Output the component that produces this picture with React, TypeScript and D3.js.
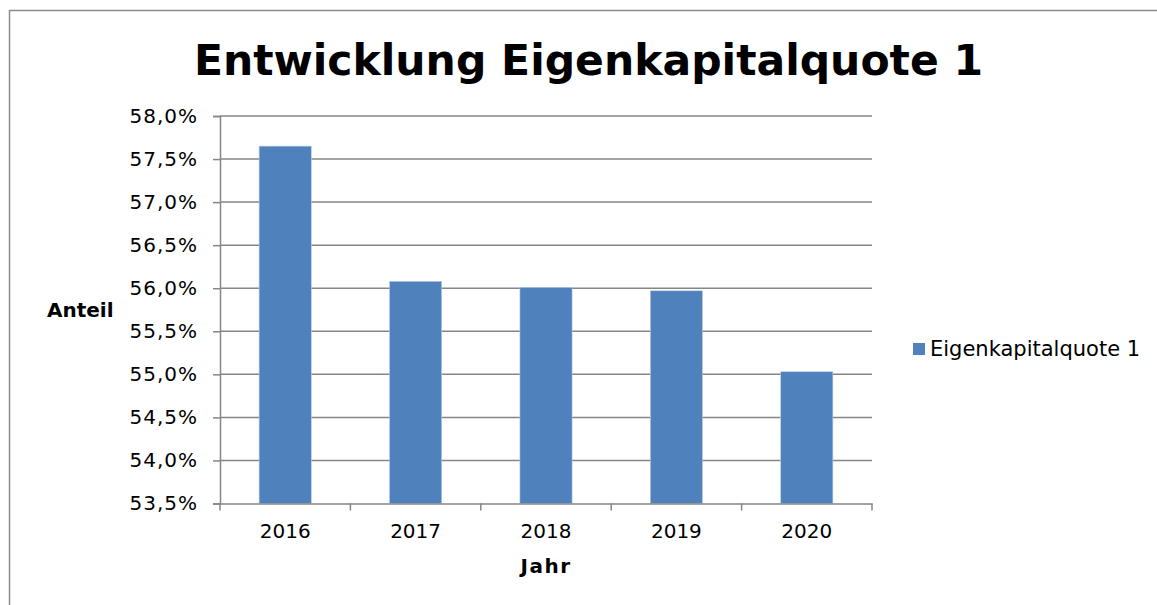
import React, { useEffect, useRef } from "react";
import * as d3 from "d3";

// data
const years = ["2016", "2017", "2018", "2019", "2020"];
const quote = [57.65, 56.08, 56.01, 55.97, 55.03];
const yTicks = [53.5, 54.0, 54.5, 55.0, 55.5, 56.0, 56.5, 57.0, 57.5, 58.0];
const seriesName = "Eigenkapitalquote 1";
const title = "Entwicklung Eigenkapitalquote 1";

const W = 1157;
const H = 605;
const FONT = "'DejaVu Sans', Verdana, sans-serif";

const App = () => {
    const ref = useRef<SVGSVGElement | null>(null);

    useEffect(() => {
        const svg = d3.select(ref.current);
        svg.selectAll("*").remove();

        const plot = { left: 220, right: 872, top: 116, bottom: 503.5 };

        // outer frame (runs past the window on the right and bottom)
        svg.append("rect")
            .attr("x", 9.5)
            .attr("y", 10.5)
            .attr("width", W + 20)
            .attr("height", H + 20)
            .attr("fill", "#fff")
            .attr("stroke", "#8c8c8c")
            .attr("stroke-width", 1.5);

        svg.append("text")
            .attr("x", 588.5)
            .attr("y", 75)
            .attr("text-anchor", "middle")
            .style("font-family", FONT)
            .style("font-weight", "bold")
            .style("font-size", "42.5px")
            .text(title);

        const x = d3.scaleBand<string>()
            .domain(years)
            .range([plot.left, plot.right]);

        const y = d3.scaleLinear()
            .domain([53.5, 58.0])
            .range([plot.bottom, plot.top]);

        const fmt = (v: number) => v.toFixed(1).replace(".", ",") + "%";

        // y axis with tick marks
        const yAxis = svg.append("g")
            .attr("transform", `translate(${plot.left},0)`)
            .call(d3.axisLeft(y)
                .tickValues(yTicks)
                .tickFormat(d => fmt(d as number))
                .tickSize(7)
                .tickPadding(15)
            );
        yAxis.select(".domain").attr("stroke", "#868686").attr("stroke-width", 1.5);
        yAxis.selectAll(".tick line").attr("stroke", "#868686").attr("stroke-width", 1.5);
        yAxis.selectAll(".tick text")
            .style("font-family", FONT)
            .style("font-size", "20px")
            .style("letter-spacing", "1px")
            .attr("fill", "#000");

        // gridlines
        svg.append("g")
            .selectAll("line")
            .data(yTicks.filter(t => t > 53.5))
            .enter()
            .append("line")
            .attr("x1", plot.left)
            .attr("x2", plot.right)
            .attr("y1", d => y(d))
            .attr("y2", d => y(d))
            .attr("stroke", "#868686")
            .attr("stroke-width", 1.5);

        // bars
        const barW = x.bandwidth() * 0.4;
        svg.append("g")
            .selectAll("rect")
            .data(quote)
            .enter()
            .append("rect")
            .attr("x", (d, i) => (x(years[i]) as number) + (x.bandwidth() - barW) / 2)
            .attr("y", d => y(d))
            .attr("width", barW)
            .attr("height", d => plot.bottom - y(d))
            .attr("fill", "#4f81bd")
            .attr("stroke", "#b9cde5")
            .attr("stroke-width", 0.6);

        // x axis
        const xAxis = svg.append("g")
            .attr("transform", `translate(0,${plot.bottom})`)
            .call(d3.axisBottom(x).tickSize(0).tickPadding(20));
        xAxis.select(".domain").attr("stroke", "#868686").attr("stroke-width", 1.5);
        xAxis.selectAll(".tick text")
            .style("font-family", FONT)
            .style("font-size", "20px")
            .attr("fill", "#000");

        // category separators below the axis
        svg.append("g")
            .selectAll("line")
            .data(years.map((_, i) => i).concat([years.length]))
            .enter()
            .append("line")
            .attr("x1", i => plot.left + i * x.step())
            .attr("x2", i => plot.left + i * x.step())
            .attr("y1", plot.bottom)
            .attr("y2", plot.bottom + 7)
            .attr("stroke", "#868686")
            .attr("stroke-width", 1.5);

        // axis titles
        svg.append("text")
            .attr("x", 47)
            .attr("y", 317)
            .style("font-family", FONT)
            .style("font-weight", "bold")
            .style("font-size", "20px")
            .text("Anteil");

        svg.append("text")
            .attr("x", 546)
            .attr("y", 573)
            .attr("text-anchor", "middle")
            .style("font-family", FONT)
            .style("font-weight", "bold")
            .style("font-size", "20px")
            .style("letter-spacing", "1.5px")
            .text("Jahr");

        // legend
        const legend = svg.append("g").attr("transform", "translate(913,343)");
        legend.append("rect")
            .attr("width", 12)
            .attr("height", 12)
            .attr("fill", "#4f81bd");
        legend.append("text")
            .attr("x", 17)
            .attr("y", 13)
            .style("font-family", FONT)
            .style("font-size", "21px")
            .text(seriesName);
    }, []);

    return (
        <svg ref={ref} width={W} height={H}
            style={{ position: "absolute", left: 0, top: 0, background: "#fff" }} />
    );
};

export default App;
